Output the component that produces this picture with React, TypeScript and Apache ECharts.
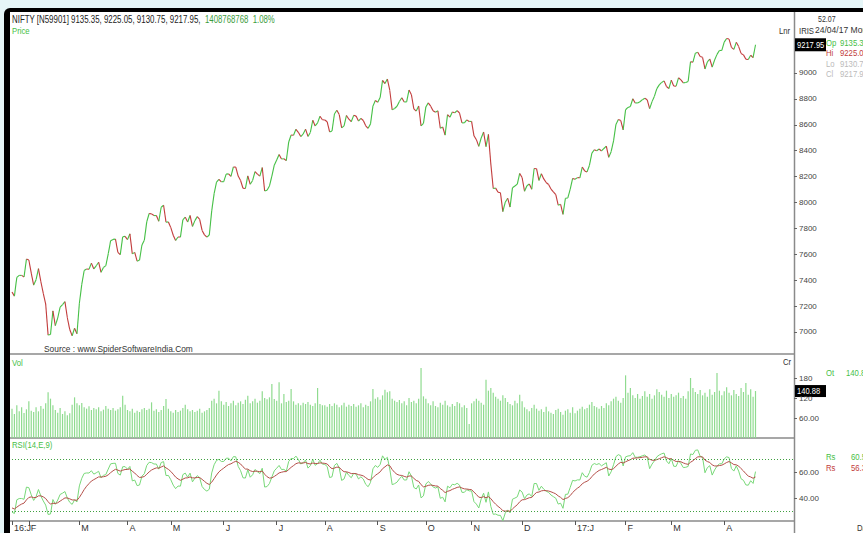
import React, { useEffect, useRef } from "react";
import * as echarts from "echarts";

// ---------- data ----------
const monthLabels = ["16:J", "F", "M", "A", "M", "J", "J", "A", "S", "O", "N", "D", "17:J", "F", "M", "A"];

const closesByMonth: number[][] = [
  [7309, 7277, 7422, 7437, 7437, 7425, 7563],
  [7556, 7455, 7362, 7404, 7489, 7388, 7299, 7216, 6976, 6981, 7163, 7049, 7108, 7192, 7211, 7235, 7110, 7019, 6971, 7029, 6987],
  [7222, 7368, 7475, 7486, 7485, 7532, 7487, 7511, 7539, 7461, 7498, 7512, 7604, 7705, 7715, 7717, 7615, 7597, 7735, 7738],
  [7713, 7758, 7603, 7615, 7547, 7555, 7672, 7709, 7850, 7915, 7912, 7899, 7899, 7855, 7963, 7979, 7848, 7850],
  [7806, 7747, 7706, 7734, 7733, 7866, 7887, 7849, 7900, 7815, 7860, 7891, 7870, 7784, 7750, 7732, 7749, 7935, 8069, 8157, 8179, 8160],
  [8161, 8219, 8221, 8201, 8274, 8273, 8204, 8170, 8110, 8108, 8206, 8141, 8170, 8238, 8219, 8204, 8270, 8089, 8094, 8128, 8204, 8288],
  [8328, 8371, 8336, 8338, 8323, 8467, 8521, 8519, 8565, 8542, 8509, 8528, 8566, 8510, 8541, 8635, 8591, 8615, 8666, 8639],
  [8637, 8623, 8545, 8552, 8683, 8712, 8679, 8576, 8592, 8672, 8643, 8624, 8673, 8667, 8629, 8650, 8633, 8592, 8573, 8607, 8744, 8787],
  [8774, 8810, 8943, 8918, 8953, 8867, 8715, 8726, 8743, 8780, 8809, 8776, 8777, 8868, 8832, 8723, 8706, 8745, 8592, 8611],
  [8738, 8769, 8744, 8709, 8697, 8708, 8573, 8583, 8520, 8678, 8659, 8699, 8693, 8709, 8691, 8615, 8615, 8638, 8626],
  [8626, 8515, 8485, 8433, 8498, 8544, 8432, 8526, 8297, 8108, 8111, 8079, 8075, 7929, 8002, 8033, 7965, 8114, 8127, 8142, 8224],
  [8193, 8087, 8129, 8143, 8102, 8262, 8261, 8170, 8222, 8182, 8154, 8139, 8104, 8082, 8061, 7979, 7986, 7908, 8033, 8035, 8104, 8186],
  [8180, 8192, 8191, 8274, 8244, 8236, 8288, 8381, 8407, 8400, 8413, 8398, 8417, 8435, 8349, 8392, 8476, 8603, 8641, 8633, 8561],
  [8716, 8734, 8741, 8801, 8768, 8769, 8778, 8794, 8805, 8793, 8725, 8779, 8821, 8879, 8908, 8927, 8939, 8896, 8880],
  [8945, 8899, 8898, 8963, 8947, 8924, 8927, 8935, 9087, 9084, 9153, 9160, 9127, 9121, 9031, 9086, 9108, 9045, 9100, 9144, 9174, 9174],
  [9238, 9266, 9262, 9198, 9182, 9237, 9204, 9151, 9140, 9106, 9104, 9137, 9119, 9217.95],
];

const volumesByMonth: number[][] = [
  [88, 72, 98, 80, 92, 75, 86],
  [110, 82, 78, 92, 80, 96, 88, 104, 137, 118, 98, 84, 76, 90, 72, 80, 68, 74, 100, 122, 104],
  [98, 105, 92, 88, 95, 84, 90, 86, 92, 80, 85, 96, 88, 84, 90, 82, 86, 92, 127, 100],
  [84, 80, 88, 76, 82, 78, 86, 90, 84, 88, 107, 82, 86, 78, 84, 96, 117, 88],
  [80, 76, 84, 78, 82, 90, 100, 86, 80, 84, 78, 82, 88, 76, 80, 84, 90, 112, 118, 104, 142, 110],
  [100, 108, 96, 104, 112, 98, 106, 110, 102, 115, 127, 104, 110, 118, 106, 112, 140, 120, 116, 122, 162, 117],
  [112, 167, 104, 132, 108, 112, 147, 110, 100, 104, 98, 106, 102, 108, 100, 96, 104, 150, 102, 98],
  [98, 94, 102, 96, 104, 100, 92, 98, 106, 94, 100, 96, 102, 94, 98, 104, 92, 100, 96, 110, 147, 118],
  [122, 115, 128, 145, 137, 140, 118, 112, 108, 114, 104, 110, 98, 120, 108, 112, 104, 118, 210, 125],
  [118, 104, 98, 110, 96, 92, 106, 100, 112, 98, 94, 102, 96, 108, 104, 92, 98, 90, 42],
  [104, 110, 118, 112, 106, 100, 175, 142, 150, 136, 124, 118, 112, 128, 120, 108, 102, 98, 112, 104, 130],
  [110, 92, 86, 80, 90, 100, 88, 82, 86, 78, 94, 80, 76, 72, 84, 88, 78, 70, 82, 86, 76, 92],
  [74, 82, 88, 94, 86, 90, 100, 108, 96, 92, 88, 96, 90, 104, 98, 110, 118, 124, 112, 106, 120],
  [188, 136, 150, 128, 120, 132, 118, 126, 140, 124, 132, 118, 128, 146, 138, 130, 124, 142, 120],
  [132, 124, 128, 136, 120, 126, 118, 140, 180, 150, 138, 132, 144, 128, 136, 124, 146, 130, 138, 195, 142, 128],
  [140, 152, 136, 128, 144, 132, 126, 150, 138, 165, 130, 146, 124, 140.88],
];

// closes before the first plotted day, used only to warm up the RSI
const warmupCloses = [
  7955, 7931, 7865, 7782, 7765, 7702, 7612, 7683, 7610, 7650, 7700, 7750, 7844, 7762, 7834, 7787, 7866, 7861,
  7926, 7928, 7896, 7946, 7963, 7791, 7784, 7741, 7569, 7601, 7564, 7510, 7562, 7537, 7438, 7351, 7435,
];

const lastOHLC = [9135.35, 9225.05, 9130.75, 9217.95];
const lastVolumeShares = "1408768768";
const lastChange = "1.08%";
const rsiReadout = ["60.53", "56.32"];

const priceTicks = [7000, 7200, 7400, 7600, 7800, 8000, 8200, 8400, 8600, 8800, 9000];
const volTicks = [60, 120, 180];
const volTickLabels = ["60.00", "120", "180"];
const rsiTicks = [40, 60];
const rsiTickLabels = ["40.00", "60.00"];
const rsiBands = [30, 70];
const rsiPeriod = 14;
const signalPeriod = 9;
const futurePad = 16; // empty trading slots to the right of the last bar

// ---------- derived ----------
const closes: number[] = [];
const volumes: number[] = [];
const monthStart: Record<number, string> = {};
closesByMonth.forEach((arr, m) => {
  monthStart[closes.length] = monthLabels[m];
  closes.push(...arr);
  volumes.push(...volumesByMonth[m]);
});
const categories = [
  ...closes.map((_, i) => "d" + i),
  ...Array.from({ length: futurePad }, (_, i) => "p" + i),
];

function wilderRsi(vals: number[], period: number): (number | null)[] {
  const out: (number | null)[] = vals.map(() => null);
  let g = 0, l = 0;
  for (let i = 1; i <= period; i++) {
    const d = vals[i] - vals[i - 1];
    if (d > 0) g += d; else l -= d;
  }
  g /= period; l /= period;
  out[period] = l === 0 ? 100 : 100 - 100 / (1 + g / l);
  for (let i = period + 1; i < vals.length; i++) {
    const d = vals[i] - vals[i - 1];
    g = (g * (period - 1) + Math.max(d, 0)) / period;
    l = (l * (period - 1) + Math.max(-d, 0)) / period;
    out[i] = l === 0 ? 100 : 100 - 100 / (1 + g / l);
  }
  return out;
}
function emaOf(vals: (number | null)[], period: number): (number | null)[] {
  const k = 2 / (period + 1);
  let e: number | null = null;
  return vals.map((v) => {
    if (v == null) return null;
    e = e == null ? v : e + k * (v - e);
    return e;
  });
}
const allCloses = [...warmupCloses, ...closes];
const rsiAll = wilderRsi(allCloses, rsiPeriod);
const sigAll = emaOf(rsiAll, signalPeriod);
const rsi = rsiAll.slice(warmupCloses.length).map((v) => (v == null ? null : +v.toFixed(2)));
const signal = sigAll.slice(warmupCloses.length).map((v) => (v == null ? null : +v.toFixed(2)));
const segments = closes.slice(1).map((c, i) => [i + 1, closes[i], c]);

const FONT = "'Liberation Sans', Arial, sans-serif";
const GREEN = "#46c046";
const RED = "#c23c3c";
const isMonthStart = (i: number) => monthStart[i] !== undefined;

function txt(x: number, y: number, text: string, fill: string, size = 9, sx = 0.86) {
  return {
    type: "text",
    x,
    y,
    scaleX: sx,
    silent: true,
    style: { text, fill, font: `${size}px ${FONT}`, verticalAlign: "middle" },
  };
}

export default function App() {
  const ref = useRef<HTMLDivElement>(null);
  useEffect(() => {
    if (!ref.current) return;
    const chart = echarts.init(ref.current, undefined, { renderer: "svg" });
    const baseX = {
      type: "category",
      data: categories,
      boundaryGap: false,
      axisLine: { show: false },
      axisTick: { show: false },
      axisLabel: { show: false },
      splitLine: { show: false },
    };
    const baseY = {
      type: "value",
      position: "right",
      axisLine: { show: false },
      splitLine: { show: false },
    };
    const labelStyle = { color: "#444", fontSize: 8, fontFamily: FONT, margin: 5 };
    const option: any = {
      animation: false,
      grid: [
        { left: 12, right: 69, top: 12, height: 342 },
        { left: 12, right: 69, top: 354, height: 84 },
        { left: 12, right: 69, top: 438, height: 83 },
      ],
      xAxis: [
        { ...baseX, gridIndex: 0 },
        { ...baseX, gridIndex: 1 },
        {
          ...baseX,
          gridIndex: 2,
          axisTick: { show: true, interval: (i: number) => isMonthStart(i), length: 4, lineStyle: { color: "#555" } },
          axisLabel: {
            show: true,
            showMinLabel: true,
            interval: (i: number) => isMonthStart(i),
            formatter: (_v: string, i: number) => monthStart[i] ?? "",
            align: "left",
            padding: [0, 0, 0, 2],
            margin: 2,
            color: "#333",
            fontSize: 9,
            fontFamily: FONT,
          },
        },
      ],
      yAxis: [
        {
          ...baseY,
          gridIndex: 0,
          min: 6830,
          max: 9471,
          axisTick: { show: true, length: 3, customValues: priceTicks, lineStyle: { color: "#666" } },
          axisLabel: { ...labelStyle, customValues: priceTicks, formatter: (v: number) => String(v) },
        },
        {
          ...baseY,
          gridIndex: 1,
          min: 0,
          max: 252,
          axisTick: { show: true, length: 3, customValues: volTicks, lineStyle: { color: "#666" } },
          axisLabel: {
            ...labelStyle,
            customValues: volTicks,
            formatter: (v: number) => volTickLabels[volTicks.indexOf(v)] ?? "",
          },
        },
        {
          ...baseY,
          gridIndex: 2,
          min: 22.3,
          max: 86.5,
          axisTick: { show: true, length: 3, customValues: rsiTicks, lineStyle: { color: "#666" } },
          axisLabel: {
            ...labelStyle,
            customValues: rsiTicks,
            formatter: (v: number) => rsiTickLabels[rsiTicks.indexOf(v)] ?? "",
          },
        },
      ],
      series: [
        {
          type: "custom",
          xAxisIndex: 0,
          yAxisIndex: 0,
          data: segments,
          encode: { x: 0, y: [1, 2] },
          silent: true,
          renderItem: (_p: any, api: any) => {
            const i = api.value(0);
            const a = api.value(1);
            const b = api.value(2);
            const p0 = api.coord([i - 1, a]);
            const p1 = api.coord([i, b]);
            return {
              type: "line",
              shape: { x1: p0[0], y1: p0[1], x2: p1[0], y2: p1[1] },
              style: { stroke: b >= a ? GREEN : RED, lineWidth: 1.1 },
            };
          },
        },
        {
          type: "bar",
          xAxisIndex: 1,
          yAxisIndex: 1,
          data: volumes,
          barWidth: 1.2,
          silent: true,
          itemStyle: { color: "#8fdb8f" },
        },
        {
          type: "line",
          xAxisIndex: 2,
          yAxisIndex: 2,
          data: rsi,
          showSymbol: false,
          silent: true,
          lineStyle: { color: "#78d878", width: 1 },
          markLine: {
            silent: true,
            symbol: ["none", "none"],
            label: { show: false },
            lineStyle: { type: [1, 2], color: "#3fa03f", width: 1 },
            data: rsiBands.map((v) => ({ yAxis: v })),
          },
        },
        {
          type: "line",
          xAxisIndex: 2,
          yAxisIndex: 2,
          data: signal,
          showSymbol: false,
          silent: true,
          lineStyle: { color: "#b4504a", width: 1 },
        },
      ],
    };
    chart.setOption(option);

    const lastClose = closes[closes.length - 1];
    const lastVol = volumes[volumes.length - 1];
    const yClose = chart.convertToPixel({ yAxisIndex: 0 } as any, lastClose) as number;
    const yVol = chart.convertToPixel({ yAxisIndex: 1 } as any, lastVol) as number;
    const sep = { stroke: "#8a8a8a", lineWidth: 1.5 };

    const graphic: any[] = [
      { type: "line", silent: true, shape: { x1: 794.5, y1: 12, x2: 794.5, y2: 533 }, style: sep },
      { type: "line", silent: true, shape: { x1: 10, y1: 354, x2: 794, y2: 354 }, style: sep },
      { type: "line", silent: true, shape: { x1: 10, y1: 438, x2: 794, y2: 438 }, style: sep },
      { type: "line", silent: true, shape: { x1: 10, y1: 521, x2: 794, y2: 521 }, style: sep },
      txt(12, 20, `NIFTY [N59901] ${lastOHLC.map((v) => v.toFixed(2)).join(", ")},`, "#222", 10, 0.79),
      txt(205, 20, `${lastVolumeShares}  ${lastChange}`, "#3c9c3c", 10, 0.78),
      txt(12, 31, "Price", GREEN),
      txt(44, 349, "Source : www.SpiderSoftwareIndia.Com", "#333", 9, 0.93),
      txt(12, 363, "Vol", GREEN),
      txt(12, 445, "RSI(14,E,9)", GREEN),
      txt(779, 31, "Lnr", "#333"),
      txt(799, 31, "IRIS", "#333"),
      txt(818, 19, "52.07", "#333", 9, 0.78),
      txt(815, 30, "24/04/17 Mon", "#333", 9, 0.95),
      txt(826, 43, "Op", GREEN),
      txt(840, 43, lastOHLC[0].toFixed(2), GREEN),
      txt(826, 53, "Hi", RED),
      txt(840, 53, lastOHLC[1].toFixed(2), RED),
      txt(826, 64, "Lo", "#bbbbbb"),
      txt(840, 64, lastOHLC[2].toFixed(2), "#bbbbbb"),
      txt(826, 74, "Cl", "#bbbbbb"),
      txt(840, 74, lastOHLC[3].toFixed(2), "#bbbbbb"),
      txt(783, 362, "Cr", "#333"),
      txt(826, 373, "Ot", GREEN),
      txt(846, 373, lastVol.toFixed(2), GREEN),
      txt(826, 457, "Rs", GREEN),
      txt(851, 457, rsiReadout[0], GREEN),
      txt(826, 468, "Rs", RED),
      txt(851, 468, rsiReadout[1], RED),
      txt(857, 528, "Daily", "#333"),
      { type: "rect", silent: true, shape: { x: 795, y: yClose - 6.5, width: 31, height: 13 }, style: { fill: "#000" } },
      txt(797, yClose, lastClose.toFixed(2), "#fff", 9, 0.84),
      { type: "rect", silent: true, shape: { x: 795, y: yVol - 6, width: 31, height: 12 }, style: { fill: "#000" } },
      txt(797, yVol, lastVol.toFixed(2), "#fff", 9, 0.84),
    ];
    chart.setOption({ graphic });
    return () => chart.dispose();
  }, []);

  return (
    <div style={{ position: "fixed", left: 0, top: 0, width: 863, height: 533, background: "#e6f6f8", overflow: "hidden" }}>
      <div
        style={{
          position: "absolute",
          left: 4,
          top: 8,
          width: 900,
          height: 600,
          background: "#fff",
          borderTop: "4px solid #000",
          borderLeft: "6px solid #000",
          borderTopLeftRadius: 6,
          boxSizing: "border-box",
        }}
      />
      <div ref={ref} style={{ position: "absolute", left: 0, top: 0, width: 863, height: 533 }} />
    </div>
  );
}
